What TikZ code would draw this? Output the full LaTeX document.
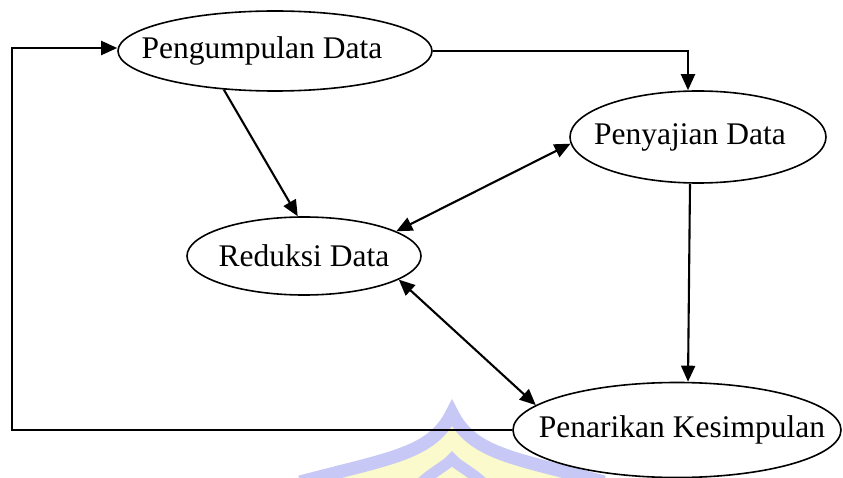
\documentclass[tikz,border=0pt]{standalone}
\usepackage{fontspec}
\setmainfont{Liberation Serif}
\usetikzlibrary{arrows.meta,shapes.geometric}
\definecolor{wmblue}{RGB}{200,200,246}
\definecolor{wmyellow}{RGB}{250,250,205}
\newcommand{\ovaltext}[2]{\makebox[0pt]{\kern#1pt #2}}
\begin{document}
\begin{tikzpicture}[x=1pt,y=-1pt,
  oval/.style={draw,ellipse,line width=1.6pt,inner sep=0pt,font=\fontsize{31.5}{36}\selectfont},
  arr/.style={line width=2.1pt,-{Triangle[length=16pt,width=14pt]}},
  barr/.style={line width=2.1pt,{Triangle[length=16pt,width=14pt]}-{Triangle[length=16pt,width=14pt]}}]
\useasboundingbox (0,0) rectangle (843,478);
% watermark
\fill[wmyellow] (452,418) .. controls (440,442) and (405,462) .. (335,478) -- (570,478) .. controls (499,462) and (464,442) .. (452,418) -- cycle;
\draw[wmblue,line width=13pt,line join=miter,miter limit=20] (300,482) .. controls (390,458) and (432,454) .. (452,413) .. controls (472,454) and (514,458) .. (604,482);
\draw[wmblue,line width=11pt,line join=miter,miter limit=20] (420,484) .. controls (432,472) and (446,466) .. (452,459) .. controls (458,466) and (472,472) .. (484,484);
% nodes
\node[oval,minimum width=314pt,minimum height=80pt] (peng) at (275,51) {\ovaltext{-26}{Pengumpulan Data}};
\node[oval,minimum width=256pt,minimum height=92pt] (peny) at (698,137) {\ovaltext{-16}{Penyajian Data}};
\node[oval,minimum width=234pt,minimum height=78pt] (red) at (304,256) {\ovaltext{0}{Reduksi Data}};
\node[oval,minimum width=328pt,minimum height=95pt] (pen) at (677,430) {\ovaltext{10}{Penarikan Kesimpulan}};
\coordinate (loopx) at (12,0);
% connectors
\draw[arr] (peng.east) -| ([xshift=-10pt]peny.north);
\draw[arr] (peng.217) -- (red.99);
\draw[barr] (red.15) -- (peny.183);
\draw[barr] (red.-14) -- (pen.170);
\draw[arr] ([xshift=-8pt]peny.south) -- ([xshift=11pt]pen.north);
\draw[arr] (pen.west) -- (pen.west -| loopx) |- ([yshift=3pt]peng.west);
\end{tikzpicture}
\end{document}
